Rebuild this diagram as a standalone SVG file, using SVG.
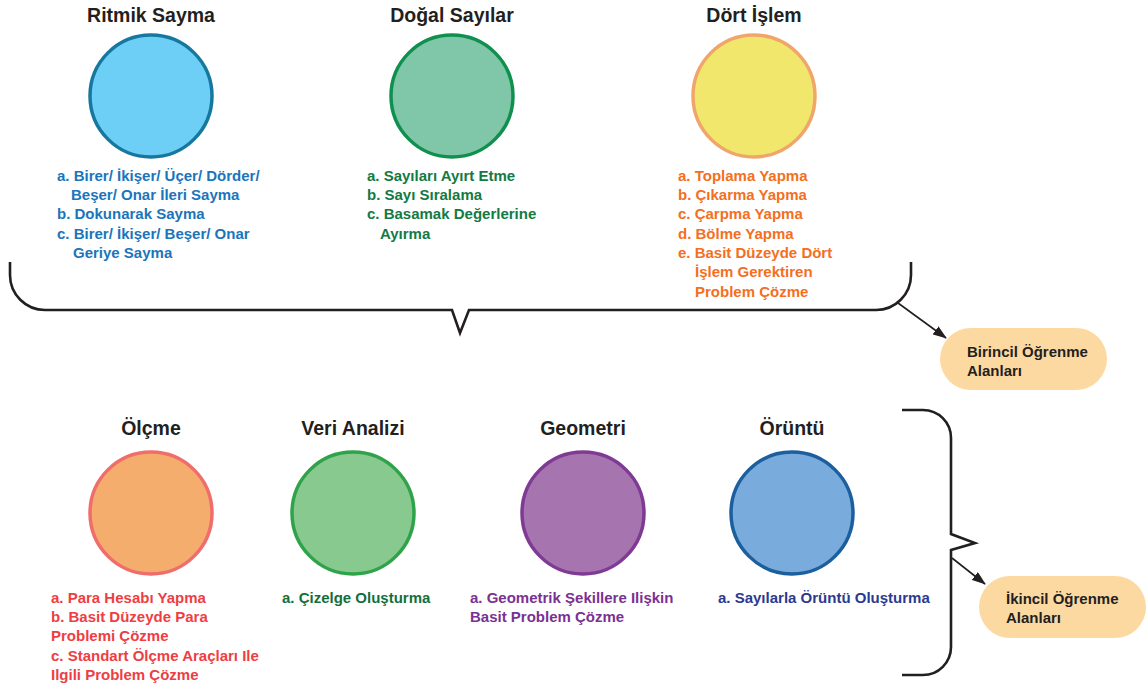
<svg xmlns="http://www.w3.org/2000/svg" width="1147" height="690" viewBox="0 0 1147 690">
  <style>
    text { font-family: "Liberation Sans", Arial, sans-serif; font-weight: bold; }
    .title { font-size: 19.5px; fill: #231f20; text-anchor: middle; }
    .item { font-size: 15px; }
    .pill-label { font-size: 15px; fill: #231f20; }
    .brace { fill: none; stroke: #231f20; stroke-width: 2.6; stroke-linejoin: miter; }
    .arrow { stroke: #231f20; stroke-width: 1.6; marker-end: url(#head); }
    .pill { fill: #fdd9a2; }
    .blue { fill: #1b75bb; }
    .green { fill: #137a43; }
    .orange { fill: #f36f21; }
    .red { fill: #ee3e42; }
    .dkgreen { fill: #146f3a; }
    .purple { fill: #7b3193; }
    .navy { fill: #2b3990; }
  </style>
  <defs>
    <marker id="head" viewBox="0 0 14 10" refX="13" refY="5" markerWidth="14" markerHeight="10" markerUnits="userSpaceOnUse" orient="auto">
      <path d="M0,0 L14,5 L0,10 Z" fill="#231f20"/>
    </marker>
  </defs>
  <rect width="1147" height="690" fill="#ffffff"/>

  <!-- Primary learning areas -->
  <g id="ritmik-sayma">
    <text class="title" x="151" y="22">Ritmik Sayma</text>
    <circle cx="151" cy="96" r="61" fill="#6dcff6" stroke="#17789f" stroke-width="3.5"/>
    <text class="item blue" x="57" y="181">a. Birer/ İkişer/ Üçer/ Dörder/</text>
    <text class="item blue" x="71" y="200">Beşer/ Onar İleri Sayma</text>
    <text class="item blue" x="57" y="219">b. Dokunarak Sayma</text>
    <text class="item blue" x="57" y="239">c. Birer/ İkişer/ Beşer/ Onar</text>
    <text class="item blue" x="73" y="258">Geriye Sayma</text>
  </g>

  <g id="dogal-sayilar">
    <text class="title" x="452" y="22">Doğal Sayılar</text>
    <circle cx="452" cy="96" r="61" fill="#80c6a8" stroke="#10904f" stroke-width="3.5"/>
    <text class="item green" x="367" y="181">a. Sayıları Ayırt Etme</text>
    <text class="item green" x="367" y="200">b. Sayı Sıralama</text>
    <text class="item green" x="367" y="219">c. Basamak Değerlerine</text>
    <text class="item green" x="380" y="239">Ayırma</text>
  </g>

  <g id="dort-islem">
    <text class="title" x="754" y="22">Dört İşlem</text>
    <circle cx="754" cy="96" r="61" fill="#f0e76c" stroke="#f0a66a" stroke-width="3.5"/>
    <text class="item orange" x="678" y="181">a. Toplama Yapma</text>
    <text class="item orange" x="678" y="200">b. Çıkarma Yapma</text>
    <text class="item orange" x="678" y="219">c. Çarpma Yapma</text>
    <text class="item orange" x="678" y="239">d. Bölme Yapma</text>
    <text class="item orange" x="678" y="258">e. Basit Düzeyde Dört</text>
    <text class="item orange" x="695" y="277">İşlem Gerektiren</text>
    <text class="item orange" x="695" y="297">Problem Çözme</text>
  </g>

  <g id="birincil">
    <rect class="pill" x="940" y="328" width="167" height="62" rx="31"/>
    <text class="pill-label" x="967" y="357">Birincil Öğrenme</text>
    <text class="pill-label" x="967" y="376">Alanları</text>
  </g>

  <!-- Secondary learning areas -->
  <g id="olcme">
    <text class="title" x="151" y="435">Ölçme</text>
    <circle cx="151" cy="513" r="61" fill="#f5ad6d" stroke="#ef6e6b" stroke-width="3.5"/>
    <text class="item red" x="51" y="603">a. Para Hesabı Yapma</text>
    <text class="item red" x="51" y="622">b. Basit Düzeyde Para</text>
    <text class="item red" x="51" y="641">Problemi Çözme</text>
    <text class="item red" x="51" y="661">c. Standart Ölçme Araçları Ile</text>
    <text class="item red" x="51" y="680">Ilgili Problem Çözme</text>
  </g>

  <g id="veri-analizi">
    <text class="title" x="353" y="435">Veri Analizi</text>
    <circle cx="353" cy="513" r="61" fill="#88c98f" stroke="#2fa349" stroke-width="3.5"/>
    <text class="item dkgreen" x="282" y="603">a. Çizelge Oluşturma</text>
  </g>

  <g id="geometri">
    <text class="title" x="583" y="435">Geometri</text>
    <circle cx="583" cy="513" r="61" fill="#a675b0" stroke="#7f3a94" stroke-width="3.5"/>
    <text class="item purple" x="470" y="603">a. Geometrik Şekillere Ilişkin</text>
    <text class="item purple" x="470" y="622">Basit Problem Çözme</text>
  </g>

  <g id="oruntu">
    <text class="title" x="792" y="435">Örüntü</text>
    <circle cx="792" cy="513" r="61" fill="#79acdc" stroke="#1b5f9e" stroke-width="3.5"/>
    <text class="item navy" x="718" y="603">a. Sayılarla Örüntü Oluşturma</text>
  </g>

  <g id="ikincil">
    <rect class="pill" x="979" y="576" width="167" height="62" rx="31"/>
    <text class="pill-label" x="1006" y="604">İkincil Öğrenme</text>
    <text class="pill-label" x="1006" y="623">Alanları</text>
  </g>

  <!-- Braces and arrows -->
  <g id="connectors">
    <path class="brace" d="M10,262 V275 A35,35 0 0 0 45,310 H452 L460,333 L469,310 H876 A35,35 0 0 0 911,275 V262"/>
    <path class="brace" d="M902,410 H923 A28,28 0 0 1 951,438 V534 L975,543 L951,550 V647 A28,28 0 0 1 923,675 H902"/>
    <line class="arrow" x1="898" y1="303" x2="946" y2="338"/>
    <line class="arrow" x1="952" y1="558" x2="985" y2="584"/>
  </g>
</svg>
